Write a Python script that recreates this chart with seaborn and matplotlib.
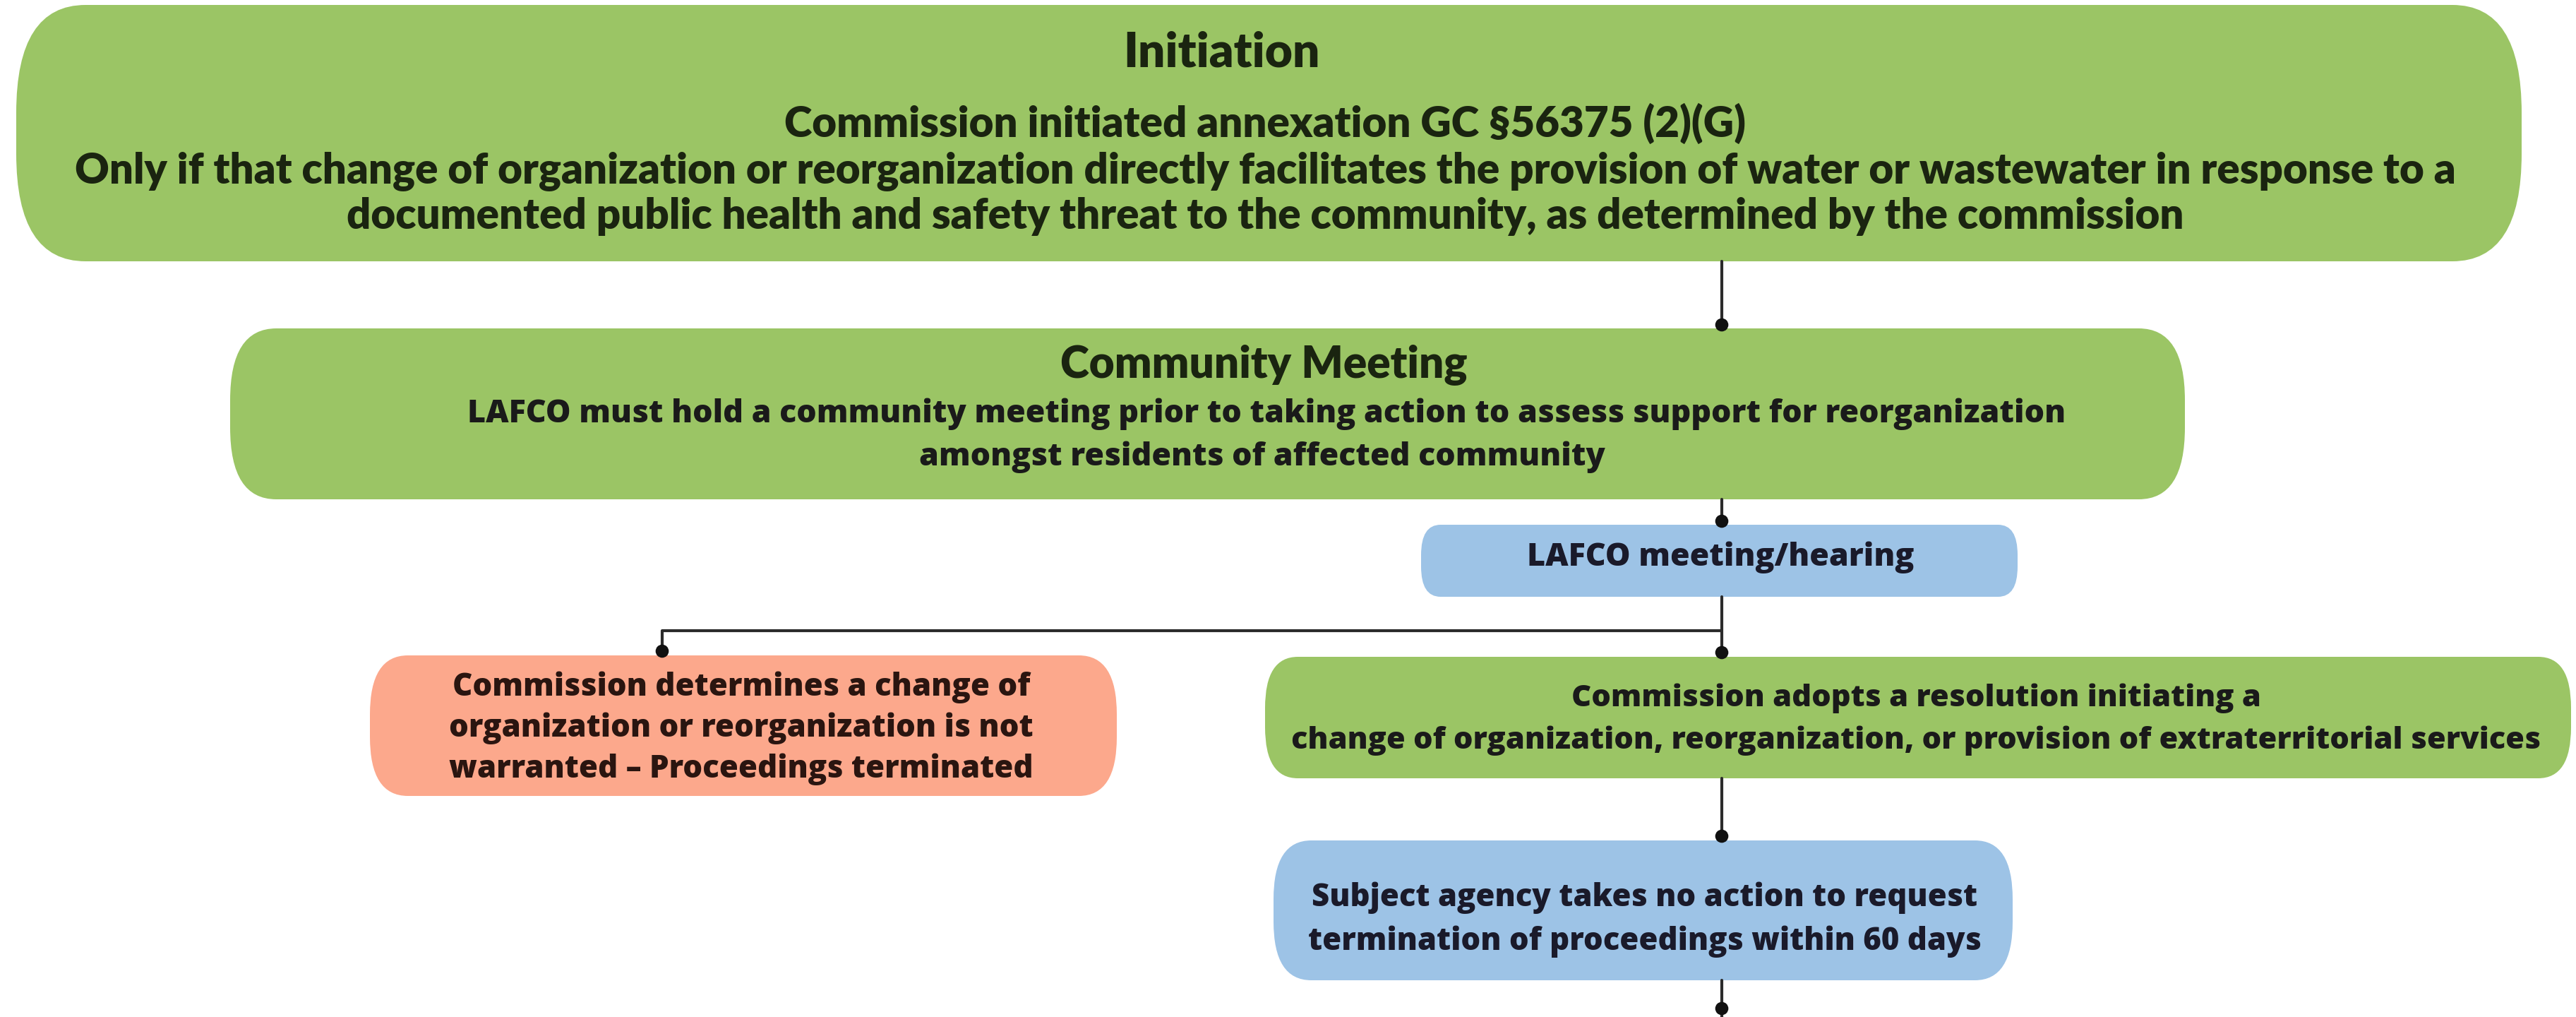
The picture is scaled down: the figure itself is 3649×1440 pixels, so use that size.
import numpy as np
import pandas as pd
import matplotlib
matplotlib.use("Agg")
import matplotlib.pyplot as plt
from matplotlib.patches import FancyBboxPatch
import seaborn as sns

# ---------------- content ----------------
box_ids = ["initiation", "community", "hearing", "terminated", "resolution", "no_action"]
box_colors = ["#9BC565", "#9BC565", "#9DC3E6", "#FCA88C", "#9BC565", "#9DC3E6"]

initiation_title = ["Initiation"]
initiation_lines = [
    "Commission initiated annexation GC §56375 (2)(G)",
    "Only if that change of organization or reorganization directly facilitates the provision of water or wastewater in response to a",
    "documented public health and safety threat to the community, as determined by the commission",
]
community_title = ["Community Meeting"]
community_lines = [
    "LAFCO must hold a community meeting prior to taking action to assess support for reorganization",
    "amongst residents of affected community",
]
hearing_lines = ["LAFCO meeting/hearing"]
terminated_lines = [
    "Commission determines a change of",
    "organization or reorganization is not",
    "warranted \u2013 Proceedings terminated",
]
resolution_lines = [
    "Commission adopts a resolution initiating a",
    "change of organization, reorganization, or provision of extraterritorial services",
]
no_action_lines = [
    "Subject agency takes no action to request",
    "termination of proceedings within 60 days",
]

# ---------------- layout (image pixel space) ----------------
W, H = 3649, 1440
boxes = {  # x0, y0, x1, y1
    "initiation": (23, 7, 3572, 370),
    "community": (326, 465, 3095, 707),
    "hearing": (2013, 743, 2858, 845),
    "terminated": (524, 928, 1582, 1127),
    "resolution": (1792, 930, 3642, 1102),
    "no_action": (1804, 1190, 2851, 1388),
}
# text groups: (lines, x centre, y centres, target widths, font family, weight, color)
text_groups = [
    (initiation_title, [1730], [75], [279], "Lato", "heavy", "#1a2410"),
    (initiation_lines, [1792, 1792, 1792], [175, 242, 307], [1359, 3398, 2606], "Lato", "heavy", "#1a2410"),
    (community_title, [1790], [517], [577], "Lato", "heavy", "#1a2410"),
    (community_lines, [1794, 1788], [586, 647], [2285, 961], "Open Sans", "heavy", "#1a1a1a"),
    (hearing_lines, [2437], [789], [547], "Open Sans", "heavy", "#1a1a2a"),
    (terminated_lines, [1050, 1050, 1050], [973, 1031, 1089], [817, 828, 831], "Open Sans", "heavy", "#2a1510"),
    (resolution_lines, [2714, 2714], [989, 1049], [975, 1776], "Open Sans", "heavy", "#1a1a1a"),
    (no_action_lines, [2330, 2330], [1271, 1333], [938, 959], "Open Sans", "heavy", "#1a1a2a"),
]

cx = 2439
segments = pd.DataFrame({
    "seg": [0, 0, 1, 1, 2, 2, 3, 3, 3, 4, 4, 5, 5],
    "x":   [cx, cx, cx, cx, cx, cx, cx, 938, 938, cx, cx, cx, cx],
    "y":   [370, 462, 707, 740, 845, 926, 893, 893, 924, 1102, 1186, 1388, 1440],
})
dots = pd.DataFrame({
    "x": [cx, cx, cx, 938, cx, cx],
    "y": [460, 738, 924, 922, 1184, 1428],
})

# ---------------- drawing ----------------
sns.set_theme(style="white")
plt.rcParams["font.family"] = ["Lato", "DejaVu Sans"]

fig = plt.figure(figsize=(W / 100, H / 100), dpi=100)
ax = fig.add_axes([0, 0, 1, 1])

for bid, col in zip(box_ids, box_colors):
    x0, y0, x1, y1 = boxes[bid]
    h = y1 - y0
    rx = 0.27 * h
    ry = 0.42 * h
    p = FancyBboxPatch((x0, y0), x1 - x0, h,
                       boxstyle=f"round,pad=0,rounding_size={rx}",
                       mutation_aspect=ry / rx,
                       facecolor=col, edgecolor="none", zorder=1)
    ax.add_patch(p)

sns.lineplot(data=segments, x="x", y="y", units="seg", estimator=None, sort=False,
             color="#2b2b2b", linewidth=3.0, ax=ax, zorder=3)
sns.scatterplot(data=dots, x="x", y="y", color="#111111", s=180, edgecolor="none",
                ax=ax, zorder=4)

ax.set_xlim(0, W)
ax.set_ylim(H, 0)
ax.axis("off")

fig.canvas.draw()
renderer = fig.canvas.get_renderer()
for lines, xs, ys, widths, fam, wt, col in text_groups:
    objs = []
    for line, x, y in zip(lines, xs, ys):
        t = ax.text(x, y, line, ha="center", va="center", fontsize=20,
                    family=[fam, "DejaVu Sans"], fontweight=wt, color=col, zorder=5)
        objs.append(t)
    sizes = []
    for t, w in zip(objs, widths):
        bb = t.get_window_extent(renderer)
        sizes.append(20 * w / bb.width)
    fs = float(np.median(sizes))
    for t in objs:
        t.set_fontsize(fs)

fig.savefig("out.png", dpi=100, facecolor="white")
